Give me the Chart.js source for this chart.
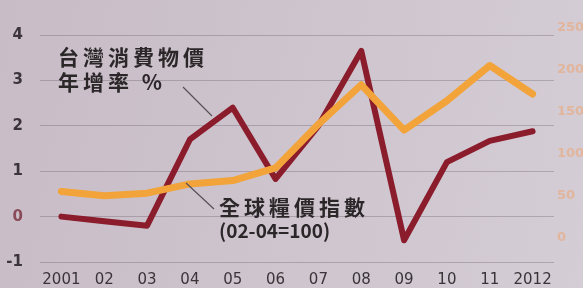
<!DOCTYPE html>
<html>
<head>
<meta charset="utf-8">
<script src="https://cdn.jsdelivr.net/npm/chart.js@4"></script>
<style>
  html, body { margin: 0; padding: 0; }
  body { width: 583px; height: 288px; background: linear-gradient(100deg, #c8bcc7 0%, #cec5ce 55%, #d5cdd5 100%); }
  #wrap { position: relative; width: 583px; height: 288px; }
</style>
</head>
<body>
<div id="wrap"><canvas id="foodCpiChart"></canvas></div>
<script>
// categories and series
const years = ['2001', '02', '03', '04', '05', '06', '07', '08', '09', '10', '11', '2012'];
const taiwanCpi = [0.0, -0.1, -0.2, 1.7, 2.4, 0.83, 2.0, 3.65, -0.52, 1.2, 1.67, 1.88];   // left axis, %
const foodIndex = [55, 50, 53, 64, 68, 83, 135, 182, 128, 163, 205, 171];              // right axis
const leftTicks = [-1, 0, 1, 2, 3, 4];
const rightTicks = [0, 50, 100, 150, 200, 250];

const CJK = '"Noto Sans CJK TC", "Noto Sans CJK SC", sans-serif';

// the two callout labels with their leader lines
const calloutPlugin = {
    id: 'callouts',
    afterDatasetsDraw(chart) {
        const ctx = chart.ctx;
        ctx.save();
        ctx.fillStyle = '#2b2729';
        ctx.textBaseline = 'middle';
        ctx.textAlign = 'left';
        ctx.font = 'bold 21px ' + CJK;
        ctx.letterSpacing = '4px';
        ctx.fillText('台灣消費物價', 58, 57);
        ctx.fillText('年增率 %', 58, 82);
        ctx.fillText('全球糧價指數', 219, 207);
        ctx.letterSpacing = '0px';
        ctx.font = 'bold 19px ' + CJK;
        ctx.fillText('(02-04=100)', 219, 231);

        ctx.strokeStyle = '#575055';
        ctx.lineWidth = 1.2;
        ctx.beginPath();
        ctx.moveTo(183, 87);
        ctx.lineTo(212, 116);
        ctx.moveTo(186, 183);
        ctx.lineTo(214, 209);
        ctx.stroke();
        ctx.restore();
    }
};

const ctx = document.getElementById('foodCpiChart').getContext('2d');
new Chart(ctx, {
    type: 'line',
    data: {
        labels: years,
        datasets: [{
            label: '台灣消費物價年增率 %',
            data: taiwanCpi,
            yAxisID: 'y',
            borderColor: '#8a1c2c',
            borderWidth: 6,
            pointRadius: 0,
            tension: 0,
            borderJoinStyle: 'round',
            borderCapStyle: 'round',
            order: 2
        }, {
            label: '全球糧價指數 (02-04=100)',
            data: foodIndex,
            yAxisID: 'y1',
            borderColor: '#f2a33a',
            borderWidth: 7,
            pointRadius: 0,
            tension: 0,
            borderJoinStyle: 'round',
            borderCapStyle: 'round',
            order: 1
        }]
    },
    options: {
        responsive: true,
        maintainAspectRatio: false,
        animation: false,
        layout: { padding: { top: 13, left: 0, right: 0, bottom: 0 } },
        plugins: {
            legend: { display: false },
            tooltip: { enabled: false }
        },
        scales: {
            x: {
                offset: true,
                grid: { display: false },
                border: { display: false },
                afterFit: scale => { scale.height = 25; },
                ticks: {
                    padding: 1,
                    maxRotation: 0,
                    autoSkip: false,
                    color: '#3a3438',
                    font: { family: '"DejaVu Sans", sans-serif', size: 15 }
                }
            },
            y: {
                position: 'left',
                min: -1,
                max: 4.2,
                afterFit: scale => { scale.width = 40; },
                afterBuildTicks: scale => { scale.ticks = leftTicks.map(v => ({ value: v })); },
                grid: { color: 'rgba(95, 85, 95, 0.32)', lineWidth: 1, drawTicks: false },
                border: { display: false },
                ticks: {
                    padding: 17,
                    color: c => (c.tick && c.tick.value === 0 ? '#8a4a58' : '#3b353b'),
                    font: { family: '"DejaVu Sans", sans-serif', size: 15, weight: 'bold' }
                }
            },
            y1: {
                position: 'right',
                min: -29,
                max: 252,
                afterFit: scale => { scale.width = 29; },
                afterBuildTicks: scale => { scale.ticks = rightTicks.map(v => ({ value: v })); },
                grid: { display: false, drawTicks: false },
                border: { display: false },
                ticks: {
                    padding: 3,
                    color: 'rgba(240, 160, 100, 0.5)',
                    font: { family: '"DejaVu Sans", sans-serif', size: 13, weight: 'bold' }
                }
            }
        }
    },
    plugins: [calloutPlugin]
});
</script>
</body>
</html>
